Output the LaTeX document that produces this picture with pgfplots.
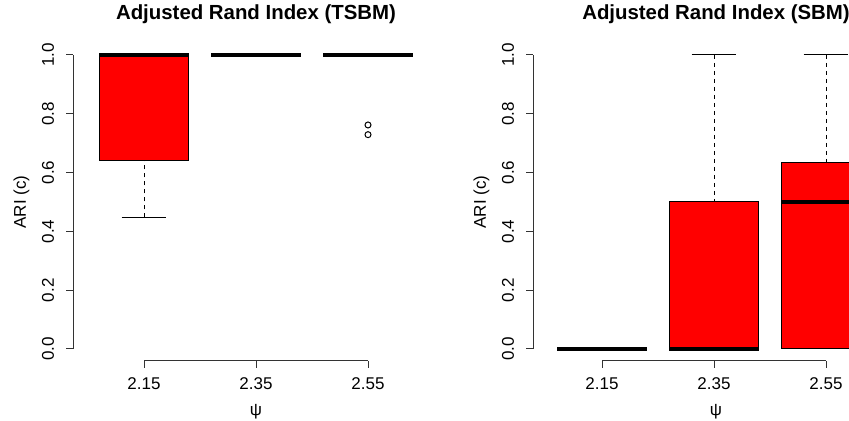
\documentclass[border=0pt]{standalone}
\usepackage{fontspec}
\setmainfont{Liberation Sans}
\usepackage{pgfplots}
\pgfplotsset{compat=1.18}
\usepgfplotslibrary{statistics}

% R-style boxplot parts: thick median, dashed whisker stems, solid staples half as wide as the box
\pgfplotsset{
  boxplot/draw/median/.code={
    \pgfmathsetmacro\mlo{\pgfplotsboxplotvalue{median}-0.0052}
    \pgfmathsetmacro\mhi{\pgfplotsboxplotvalue{median}+0.0052}
    \fill[black, draw=none]
      (boxplot box cs:\mlo,0) rectangle (boxplot box cs:\mhi,1);
  },
  boxplot/draw/lower whisker/.code={
    \draw[line width=0.45pt, dash pattern=on 2pt off 2pt]
      (boxplot cs:\pgfplotsboxplotvalue{lower whisker}) --
      (boxplot cs:\pgfplotsboxplotvalue{lower quartile});
    \draw[line width=0.5pt, solid]
      (boxplot box cs:\pgfplotsboxplotvalue{lower whisker},0.25) --
      (boxplot box cs:\pgfplotsboxplotvalue{lower whisker},0.75);
  },
  boxplot/draw/upper whisker/.code={
    \draw[line width=0.45pt, dash pattern=on 2pt off 2pt]
      (boxplot cs:\pgfplotsboxplotvalue{upper whisker}) --
      (boxplot cs:\pgfplotsboxplotvalue{upper quartile});
    \draw[line width=0.5pt, solid]
      (boxplot box cs:\pgfplotsboxplotvalue{upper whisker},0.25) --
      (boxplot box cs:\pgfplotsboxplotvalue{upper whisker},0.75);
  },
}

\pgfplotsset{
  rpanel/.style={
    scale only axis, clip=false,
    width=183pt, height=158.76pt,
    ymin=-0.04, ymax=1.04,
    axis x line*=bottom, axis y line*=left,
    axis line style={draw=none},
    tick align=outside,
    major tick length=3.5pt,
    tick style={black!80, line width=0.5pt},
    xtick={1,2,3}, xticklabels={2.15,2.35,2.55},
    ytick={0,0.2,0.4,0.6,0.8,1}, yticklabels={0.0,0.2,0.4,0.6,0.8,1.0},
    /pgf/number format/assume math mode=true,
    tick label style={font=\fontsize{8.5}{10}\selectfont},
    yticklabel style={rotate=90, anchor=south},
    yticklabel shift=2.5pt,
    xticklabel shift=1.5pt,
    xlabel={ψ}, ylabel={ARI (c)},
    every axis x label/.style={at={(axis description cs:0.5,0)}, yshift=-25.4pt, anchor=center, font=\fontsize{8.5}{10}\selectfont},
    every axis y label/.style={at={(axis description cs:0,0.5)}, xshift=-25.8pt, rotate=90, anchor=center, font=\fontsize{8.5}{10}\selectfont},
    every axis title/.style={at={(axis description cs:0.5,1)}, yshift=14.5pt, anchor=center, font=\bfseries\fontsize{10.2}{12}\selectfont},
    boxplot/draw direction=y,
    boxplot/box extend=0.8,
  },
  rbox/.style={draw=black, line width=0.5pt, mark=o, mark size=1.5pt,
    mark options={solid, draw=black},
    boxplot/draw direction=y,
    boxplot/every box/.style={fill=red}},
}

\begin{document}
\begin{tikzpicture}
\useasboundingbox (0,0) rectangle (424.5pt,210.5pt);
\clip (0,0) rectangle (424.5pt,210.5pt);

% left panel
\begin{axis}[rpanel, at={(36.5pt,30.12pt)}, anchor=south west,
  xmin=0.366, xmax=3.634,
  title={Adjusted Rand Index (TSBM)}]
\addplot[rbox, boxplot prepared={draw position=1,
  lower whisker=0.448, lower quartile=0.642, median=1,
  upper quartile=1, upper whisker=1}] coordinates {};
\addplot[rbox, boxplot prepared={draw position=2,
  lower whisker=1, lower quartile=1, median=1,
  upper quartile=1, upper whisker=1}] coordinates {};
\addplot[rbox, boxplot prepared={draw position=3,
  lower whisker=1, lower quartile=1, median=1,
  upper quartile=1, upper whisker=1}] coordinates {(0,0.762) (0,0.729)};
\draw[line width=0.5pt, black!80] (axis cs:0.366,0) -- (axis cs:0.366,1);
\draw[line width=0.5pt, black!80] (axis cs:1,-0.04) -- (axis cs:3,-0.04);
\end{axis}

% right panel
\begin{axis}[rpanel, at={(266.5pt,30.12pt)}, anchor=south west,
  xmin=0.384, xmax=3.652,
  title={Adjusted Rand Index (SBM)}]
\addplot[rbox, boxplot prepared={draw position=1,
  lower whisker=0, lower quartile=0, median=0,
  upper quartile=0, upper whisker=0}] coordinates {};
\addplot[rbox, boxplot prepared={draw position=2,
  lower whisker=0, lower quartile=0, median=0,
  upper quartile=0.501, upper whisker=1}] coordinates {};
\addplot[rbox, boxplot prepared={draw position=3,
  lower whisker=0, lower quartile=0, median=0.5,
  upper quartile=0.634, upper whisker=1}] coordinates {};
\draw[line width=0.5pt, black!80] (axis cs:0.384,0) -- (axis cs:0.384,1);
\draw[line width=0.5pt, black!80] (axis cs:1,-0.04) -- (axis cs:3,-0.04);
\end{axis}
\end{tikzpicture}
\end{document}
